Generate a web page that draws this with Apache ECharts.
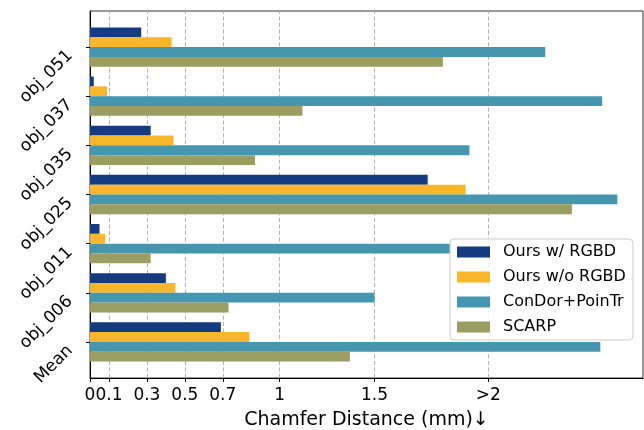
<!DOCTYPE html>
<html>
<head>
<meta charset="utf-8">
<script src="https://cdn.jsdelivr.net/npm/echarts@6/dist/echarts.min.js"></script>
<style>html,body{margin:0;padding:0;background:#fff}#c{width:644px;height:430px}</style>
</head>
<body>
<div id="c"></div>
<script>
const categories = ['obj_051', 'obj_037', 'obj_035', 'obj_025', 'obj_011', 'obj_006', 'Mean'];
const seriesNames = ['Ours w/ RGBD', 'Ours w/o RGBD', 'ConDor+PoinTr', 'SCARP'];
const oursRGBD   = [0.27, 0.02, 0.32, 1.78, 0.05, 0.40, 0.69];
const oursNoRGBD = [0.43, 0.09, 0.44, 1.98, 0.08, 0.45, 0.84];
const condor     = [2.40, 2.70, 2.00, 2.78, 1.90, 1.50, 2.69];
const scarp      = [1.86, 1.12, 0.87, 2.54, 0.32, 0.73, 1.37];
const tickValues = [0, 0.1, 0.3, 0.5, 0.7, 1, 1.5, 2.1];
const tickLabels = ['0', '0.1', '0.3', '0.5', '0.7', '1', '1.5', '>2'];

const colors = ['#143a7f', '#f8b72b', '#4796b0', '#9a9e63'];
const font = 'DejaVu Sans';
const xMax = 2.915;
const chart = echarts.init(document.getElementById('c'), null, {renderer: 'canvas'});
const allData = [oursRGBD, oursNoRGBD, condor, scarp];
const series = allData.map((d, i) => ({
  name: seriesNames[i],
  type: 'bar',
  xAxisIndex: 1, yAxisIndex: 1,
  data: d,
  barGap: '0%',
  barCategoryGap: '20%',
  itemStyle: {color: colors[i]},
  z: 2
}));
series.push({
  type: 'scatter',
  xAxisIndex: 0, yAxisIndex: 0,
  data: [],
  silent: true,
  z: 1,
  markLine: {
    silent: true,
    z: 1,
    symbol: ['none', 'none'],
    label: {show: false},
    lineStyle: {color: '#b3b3b3', type: [4, 2.5], width: 1},
    data: tickValues.filter(v => v > 0).map(v => ({xAxis: v}))
  }
});
chart.setOption({
  animation: false,
  color: colors,
  grid: [
    {left: 90, right: 1, top: 11, bottom: 52, outerBoundsMode: 'none', containLabel: false,
     show: true, borderColor: '#333', borderWidth: 1, backgroundColor: 'transparent'},
    {left: 90, right: 1, top: 22.5, bottom: 63.5, outerBoundsMode: 'none', containLabel: false}
  ],
  legend: {
    data: seriesNames,
    orient: 'vertical',
    left: 450, top: 239,
    padding: [5, 7, 5, 7],
    itemGap: 9,
    itemWidth: 33, itemHeight: 11,
    icon: 'rect',
    borderColor: '#cccccc', borderWidth: 1, borderRadius: 4,
    backgroundColor: 'rgba(255,255,255,0.85)',
    textStyle: {fontFamily: font, fontSize: 16, color: '#000', padding: [0, 0, 0, 8]}
  },
  xAxis: [{
    gridIndex: 0,
    type: 'value',
    min: 0, max: xMax,
    name: 'Chamfer Distance (mm)↓',
    nameLocation: 'middle',
    nameGap: 33,
    nameTextStyle: {fontFamily: font, fontSize: 19, color: '#000'},
    axisLine: {show: true, lineStyle: {color: '#000', width: 1}},
    axisTick: {show: true, length: 4, lineStyle: {color: '#000'}, customValues: tickValues},
    axisLabel: {
      customValues: tickValues,
      fontFamily: font, fontSize: 17, color: '#000', margin: 9,
      formatter: v => { const i = tickValues.findIndex(t => Math.abs(t - v) < 1e-6); return i >= 0 ? tickLabels[i] : ''; }
    },
    splitLine: {show: false}
  }, {
    gridIndex: 1,
    type: 'value',
    min: 0, max: xMax,
    show: false
  }],
  yAxis: [{
    gridIndex: 0,
    type: 'value',
    min: 0, max: 1,
    axisLine: {show: true, lineStyle: {color: '#000', width: 1}},
    axisTick: {show: false},
    axisLabel: {show: false},
    splitLine: {show: false}
  }, {
    gridIndex: 1,
    type: 'category',
    data: categories,
    inverse: true,
    axisLine: {show: false},
    axisTick: {show: true, length: 4, alignWithLabel: true, lineStyle: {color: '#000'}},
    axisLabel: {fontFamily: font, fontSize: 17, color: '#000', rotate: 45, margin: 26, verticalAlign: 'top'},
    splitLine: {show: false}
  }],
  series: series
});
</script>
</body>
</html>
